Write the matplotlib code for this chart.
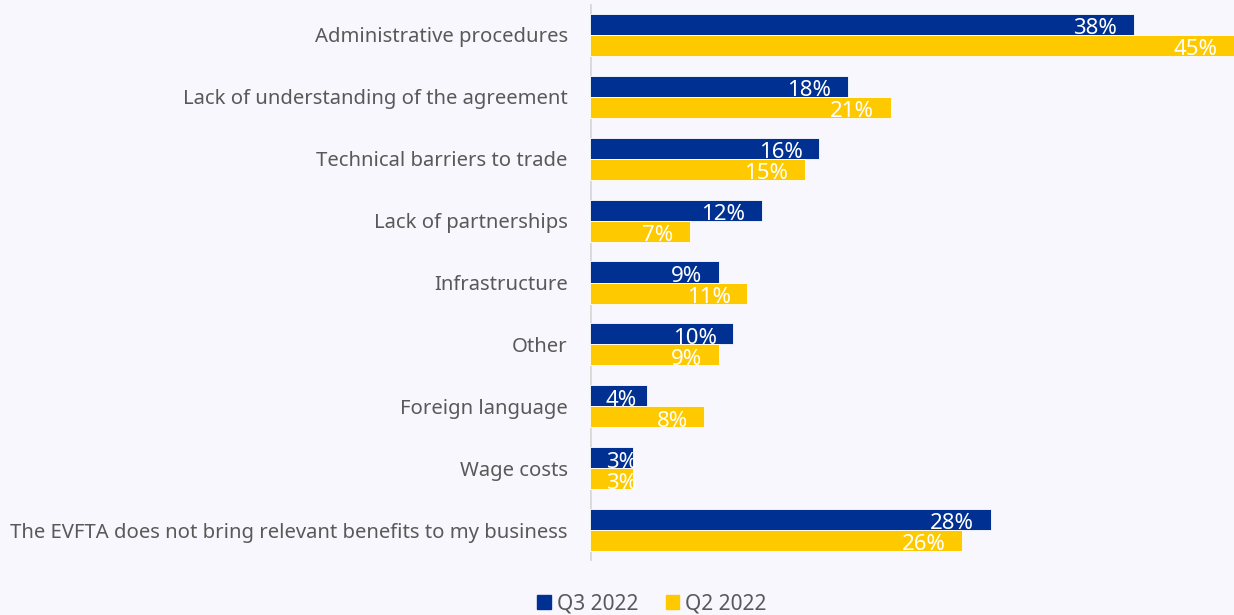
import numpy as np
import matplotlib.pyplot as plt
from matplotlib.patches import Patch

categories = [
    "Administrative procedures",
    "Lack of understanding of the agreement",
    "Technical barriers to trade",
    "Lack of partnerships",
    "Infrastructure",
    "Other",
    "Foreign language",
    "Wage costs",
    "The EVFTA does not bring relevant benefits to my business",
]
q3_2022 = [38, 18, 16, 12, 9, 10, 4, 3, 28]
q2_2022 = [45, 21, 15, 7, 11, 9, 8, 3, 26]

blue = "#003092"
yellow = "#FFC900"
bg = "#F8F7FD"
grey = "#595959"

plt.rcParams["font.family"] = ["Noto Sans", "DejaVu Sans"]

fig = plt.figure(figsize=(12.34, 6.15), dpi=100, facecolor=bg)
ax = fig.add_axes([590 / 1234, 1 - 561 / 615, 644 / 1234, 557 / 615])
ax.set_facecolor(bg)

y = np.arange(len(categories))
h = 0.34
ax.barh(y - h / 2, q3_2022, height=h, color=blue, edgecolor="white", linewidth=0.6)
ax.barh(y + h / 2, q2_2022, height=h, color=yellow, edgecolor="white", linewidth=0.6)

# value labels sit just inside the bar end, pushed right for very short bars
for yy, vals in ((y - h / 2, q3_2022), (y + h / 2, q2_2022)):
    for yi, v in zip(yy, vals):
        ax.text(max(v - 1.15, 3.3), yi + 0.03, f"{v}%", ha="right",
                va="center_baseline", color="white", fontsize=16)

ax.set_xlim(0, 45)
ax.set_ylim(len(categories) - 0.5, -0.5)
ax.set_yticks(y)
ax.set_yticklabels(categories, fontsize=14.6, color=grey)
ax.tick_params(axis="y", length=0, pad=16)
ax.set_xticks([])
for s in ax.spines.values():
    s.set_visible(False)
ax.axvline(0, color="#D9D9D9", lw=2, zorder=0)

handles = [Patch(color=blue, label="Q3 2022"), Patch(color=yellow, label="Q2 2022")]
fig.legend(handles=handles, loc="center", bbox_to_anchor=(652 / 1234, 1 - 604 / 615),
           ncol=2, frameon=False, fontsize=15, labelcolor=grey,
           handlelength=0.65, handleheight=0.65, handletextpad=0.3, columnspacing=1.3)

fig.savefig("out.png", dpi=100, facecolor=bg)
